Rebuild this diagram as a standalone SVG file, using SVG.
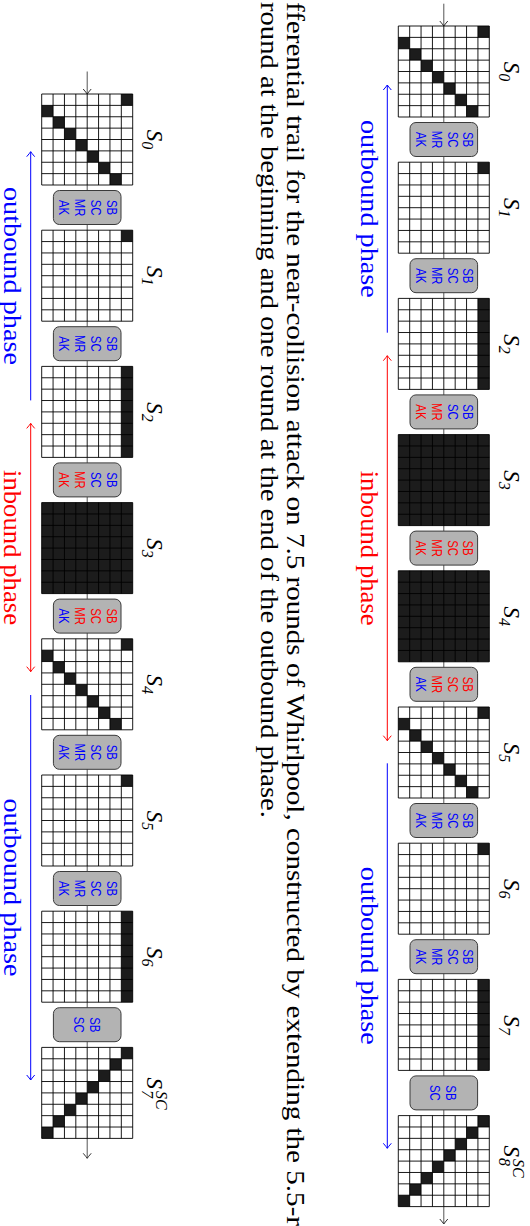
<svg xmlns="http://www.w3.org/2000/svg" xmlns:xlink="http://www.w3.org/1999/xlink" width="530" height="1226" viewBox="0 0 530 1226">
<style>
.bg{fill:#fff}
.gl{stroke:#000;stroke-width:0.9;fill:none}
.k{fill:#1c1c1c}
.box{fill:#b3b3b3;stroke:#3a3a3a;stroke-width:1}
.bt{font-family:"Liberation Sans",Arial,sans-serif;font-size:14.5px}
.b{fill:#0000ff}
.r{fill:#ff0000}
.lab{font-family:"Liberation Serif","Times New Roman",serif;font-style:italic;font-size:23px;fill:#000}
.sub{font-size:16px}
.ph{font-family:"Liberation Serif","Times New Roman",serif;font-size:25px}
.cap{font-family:"Liberation Serif","Times New Roman",serif;font-size:25px;fill:#000}
.spine{stroke:#555;stroke-width:1;fill:none}
.ab{stroke:#0000ff;stroke-width:1;fill:none}
.ar{stroke:#ff0000;stroke-width:1;fill:none}
</style>
<defs>
<marker id="mk" viewBox="-6 -5 7 10" refX="0" refY="0" markerWidth="7" markerHeight="10" markerUnits="userSpaceOnUse" orient="auto-start-reverse"><path d="M-5,-4 Q-1.5,-1 0,0 Q-1.5,1 -5,4" fill="none" stroke="#333" stroke-width="1"/></marker>
<marker id="mb" viewBox="-6 -5 7 10" refX="0" refY="0" markerWidth="7" markerHeight="10" markerUnits="userSpaceOnUse" orient="auto-start-reverse"><path d="M-5,-4 Q-1.5,-1 0,0 Q-1.5,1 -5,4" fill="none" stroke="#0000ff" stroke-width="1"/></marker>
<marker id="mr" viewBox="-6 -5 7 10" refX="0" refY="0" markerWidth="7" markerHeight="10" markerUnits="userSpaceOnUse" orient="auto-start-reverse"><path d="M-5,-4 Q-1.5,-1 0,0 Q-1.5,1 -5,4" fill="none" stroke="#ff0000" stroke-width="1"/></marker>
<path id="gl" class="gl" d="M0,0H91M0,11.375H91M0,22.75H91M0,34.125H91M0,45.5H91M0,56.875H91M0,68.25H91M0,79.625H91M0,91H91M0,0V91M11.375,0V91M22.75,0V91M34.125,0V91M45.5,0V91M56.875,0V91M68.25,0V91M79.625,0V91M91,0V91"/>
<g id="p-diag" class="k"><rect x="79.625" y="0" width="11.375" height="11.375"/><rect x="0" y="11.375" width="11.375" height="11.375"/><rect x="11.375" y="22.75" width="11.375" height="11.375"/><rect x="22.75" y="34.125" width="11.375" height="11.375"/><rect x="34.125" y="45.5" width="11.375" height="11.375"/><rect x="45.5" y="56.875" width="11.375" height="11.375"/><rect x="56.875" y="68.25" width="11.375" height="11.375"/><rect x="68.25" y="79.625" width="11.375" height="11.375"/></g>
<g id="p-anti" class="k"><rect x="79.625" y="0" width="11.375" height="11.375"/><rect x="68.25" y="11.375" width="11.375" height="11.375"/><rect x="56.875" y="22.75" width="11.375" height="11.375"/><rect x="45.5" y="34.125" width="11.375" height="11.375"/><rect x="34.125" y="45.5" width="11.375" height="11.375"/><rect x="22.75" y="56.875" width="11.375" height="11.375"/><rect x="11.375" y="68.25" width="11.375" height="11.375"/><rect x="0" y="79.625" width="11.375" height="11.375"/></g>
<rect id="p-single" class="k" x="79.625" y="0" width="11.375" height="11.375"/>
<rect id="p-col" class="k" x="79.625" y="0" width="11.375" height="91"/>
<rect id="p-full" class="k" x="0" y="0" width="91" height="91"/>
</defs>
<rect width="530" height="1226" fill="#fff"/>

<!-- connectors -->
<g id="connectors">
<line class="spine" x1="443.8" y1="26" x2="443.8" y2="1206.6"/>
<line class="spine" x1="443.8" y1="3.7" x2="443.8" y2="26" marker-end="url(#mk)"/>
<line class="spine" x1="443.8" y1="1206.6" x2="443.8" y2="1224" marker-end="url(#mk)"/>
<line class="ab" x1="387.3" y1="332.7" x2="387.3" y2="85" marker-end="url(#mb)"/>
<line class="ar" x1="387.3" y1="355.7" x2="387.3" y2="740.7" marker-start="url(#mr)" marker-end="url(#mr)"/>
<line class="ab" x1="387.3" y1="763.3" x2="387.3" y2="1148.3" marker-end="url(#mb)"/>
<line class="spine" x1="87.2" y1="94" x2="87.2" y2="1138.4"/>
<line class="spine" x1="87.2" y1="71.5" x2="87.2" y2="94" marker-end="url(#mk)"/>
<line class="spine" x1="87.2" y1="1138.4" x2="87.2" y2="1158.3" marker-end="url(#mk)"/>
<line class="ab" x1="30.7" y1="400.4" x2="30.7" y2="151.7" marker-end="url(#mb)"/>
<line class="ar" x1="30.7" y1="423.4" x2="30.7" y2="671.7" marker-start="url(#mr)" marker-end="url(#mr)"/>
<line class="ab" x1="30.7" y1="695" x2="30.7" y2="1080" marker-end="url(#mb)"/>
</g>

<!-- right figure states -->
<g id="R-S0" transform="translate(398.3,26)"><rect class="bg" width="91" height="91"/><use href="#p-diag"/><use href="#gl"/><text class="lab" transform="translate(105.7,45.5) rotate(90)" text-anchor="middle">S<tspan class="sub" dy="5">0</tspan></text></g>
<g id="R-S1" transform="translate(398.3,162.2)"><rect class="bg" width="91" height="91"/><use href="#p-single"/><use href="#gl"/><text class="lab" transform="translate(105.7,45.5) rotate(90)" text-anchor="middle">S<tspan class="sub" dy="5">1</tspan></text></g>
<g id="R-S2" transform="translate(398.3,298.4)"><rect class="bg" width="91" height="91"/><use href="#p-col"/><use href="#gl"/><text class="lab" transform="translate(105.7,45.5) rotate(90)" text-anchor="middle">S<tspan class="sub" dy="5">2</tspan></text></g>
<g id="R-S3" transform="translate(398.3,434.6)"><use href="#p-full"/><use href="#gl"/><text class="lab" transform="translate(105.7,45.5) rotate(90)" text-anchor="middle">S<tspan class="sub" dy="5">3</tspan></text></g>
<g id="R-S4" transform="translate(398.3,570.8)"><use href="#p-full"/><use href="#gl"/><text class="lab" transform="translate(105.7,45.5) rotate(90)" text-anchor="middle">S<tspan class="sub" dy="5">4</tspan></text></g>
<g id="R-S5" transform="translate(398.3,707)"><rect class="bg" width="91" height="91"/><use href="#p-diag"/><use href="#gl"/><text class="lab" transform="translate(105.7,45.5) rotate(90)" text-anchor="middle">S<tspan class="sub" dy="5">5</tspan></text></g>
<g id="R-S6" transform="translate(398.3,843.2)"><rect class="bg" width="91" height="91"/><use href="#p-single"/><use href="#gl"/><text class="lab" transform="translate(105.7,45.5) rotate(90)" text-anchor="middle">S<tspan class="sub" dy="5">6</tspan></text></g>
<g id="R-S7" transform="translate(398.3,979.4)"><rect class="bg" width="91" height="91"/><use href="#p-col"/><use href="#gl"/><text class="lab" transform="translate(105.7,45.5) rotate(90)" text-anchor="middle">S<tspan class="sub" dy="5">7</tspan></text></g>
<g id="R-S8" transform="translate(398.3,1115.6)"><rect class="bg" width="91" height="91"/><use href="#p-anti"/><use href="#gl"/><g transform="translate(105.7,45.5) rotate(90)"><text class="lab" x="-15.5">S</text><text class="lab sub" x="-2" y="-9">SC</text><text class="lab sub" x="-3" y="5">8</text></g></g>

<!-- right figure boxes -->
<g id="R-B0"><rect class="box" x="410" y="122.5" width="67.6" height="34" rx="6"/><text class="bt" transform="translate(443.8,139.5) rotate(90) scale(0.78,1)" text-anchor="middle"><tspan class="b" x="0" y="-19.5">SB</tspan><tspan class="b" x="0" y="-3.9">SC</tspan><tspan class="b" x="0" y="12.1">MR</tspan><tspan class="b" x="0" y="28.1">AK</tspan></text></g>
<g id="R-B1"><rect class="box" x="410" y="258.7" width="67.6" height="34" rx="6"/><text class="bt" transform="translate(443.8,275.7) rotate(90) scale(0.78,1)" text-anchor="middle"><tspan class="b" x="0" y="-19.5">SB</tspan><tspan class="b" x="0" y="-3.9">SC</tspan><tspan class="b" x="0" y="12.1">MR</tspan><tspan class="b" x="0" y="28.1">AK</tspan></text></g>
<g id="R-B2"><rect class="box" x="410" y="394.9" width="67.6" height="34" rx="6"/><text class="bt" transform="translate(443.8,411.9) rotate(90) scale(0.78,1)" text-anchor="middle"><tspan class="b" x="0" y="-19.5">SB</tspan><tspan class="b" x="0" y="-3.9">SC</tspan><tspan class="r" x="0" y="12.1">MR</tspan><tspan class="r" x="0" y="28.1">AK</tspan></text></g>
<g id="R-B3"><rect class="box" x="410" y="531.1" width="67.6" height="34" rx="6"/><text class="bt" transform="translate(443.8,548.1) rotate(90) scale(0.78,1)" text-anchor="middle"><tspan class="r" x="0" y="-19.5">SB</tspan><tspan class="r" x="0" y="-3.9">SC</tspan><tspan class="r" x="0" y="12.1">MR</tspan><tspan class="r" x="0" y="28.1">AK</tspan></text></g>
<g id="R-B4"><rect class="box" x="410" y="667.3" width="67.6" height="34" rx="6"/><text class="bt" transform="translate(443.8,684.3) rotate(90) scale(0.78,1)" text-anchor="middle"><tspan class="r" x="0" y="-19.5">SB</tspan><tspan class="r" x="0" y="-3.9">SC</tspan><tspan class="r" x="0" y="12.1">MR</tspan><tspan class="b" x="0" y="28.1">AK</tspan></text></g>
<g id="R-B5"><rect class="box" x="410" y="803.5" width="67.6" height="34" rx="6"/><text class="bt" transform="translate(443.8,820.5) rotate(90) scale(0.78,1)" text-anchor="middle"><tspan class="b" x="0" y="-19.5">SB</tspan><tspan class="b" x="0" y="-3.9">SC</tspan><tspan class="b" x="0" y="12.1">MR</tspan><tspan class="b" x="0" y="28.1">AK</tspan></text></g>
<g id="R-B6"><rect class="box" x="410" y="939.7" width="67.6" height="34" rx="6"/><text class="bt" transform="translate(443.8,956.7) rotate(90) scale(0.78,1)" text-anchor="middle"><tspan class="b" x="0" y="-19.5">SB</tspan><tspan class="b" x="0" y="-3.9">SC</tspan><tspan class="b" x="0" y="12.1">MR</tspan><tspan class="b" x="0" y="28.1">AK</tspan></text></g>
<g id="R-B7"><rect class="box" x="410" y="1075.9" width="67.6" height="34" rx="6"/><text class="bt" transform="translate(443.8,1092.9) rotate(90) scale(0.78,1)" text-anchor="middle"><tspan class="b" x="0" y="-2.5">SB</tspan><tspan class="b" x="0" y="13.5">SC</tspan></text></g>

<!-- right figure phase labels -->
<g id="R-phases">
<text class="ph b" transform="translate(361,208.9) rotate(90)" text-anchor="middle" textLength="178" lengthAdjust="spacingAndGlyphs">outbound phase</text>
<text class="ph r" transform="translate(361,548.2) rotate(90)" text-anchor="middle" textLength="155" lengthAdjust="spacingAndGlyphs">inbound phase</text>
<text class="ph b" transform="translate(361,955.8) rotate(90)" text-anchor="middle" textLength="178" lengthAdjust="spacingAndGlyphs">outbound phase</text>
</g>

<!-- caption -->
<g id="caption">
<text class="cap" transform="translate(287,2) rotate(90)" textLength="1224" lengthAdjust="spacingAndGlyphs">fferential trail for the near-collision attack on 7.5 rounds of Whirlpool, constructed by extending the 5.5-r</text>
<text class="cap" transform="translate(261,2) rotate(90)" textLength="816" lengthAdjust="spacingAndGlyphs">round at the beginning and one round at the end of the outbound phase.</text>
</g>

<!-- left figure states -->
<g id="L-S0" transform="translate(41.7,94)"><rect class="bg" width="91" height="91"/><use href="#p-diag"/><use href="#gl"/><text class="lab" transform="translate(105.7,45.5) rotate(90)" text-anchor="middle">S<tspan class="sub" dy="5">0</tspan></text></g>
<g id="L-S1" transform="translate(41.7,230.2)"><rect class="bg" width="91" height="91"/><use href="#p-single"/><use href="#gl"/><text class="lab" transform="translate(105.7,45.5) rotate(90)" text-anchor="middle">S<tspan class="sub" dy="5">1</tspan></text></g>
<g id="L-S2" transform="translate(41.7,366.4)"><rect class="bg" width="91" height="91"/><use href="#p-col"/><use href="#gl"/><text class="lab" transform="translate(105.7,45.5) rotate(90)" text-anchor="middle">S<tspan class="sub" dy="5">2</tspan></text></g>
<g id="L-S3" transform="translate(41.7,502.6)"><use href="#p-full"/><use href="#gl"/><text class="lab" transform="translate(105.7,45.5) rotate(90)" text-anchor="middle">S<tspan class="sub" dy="5">3</tspan></text></g>
<g id="L-S4" transform="translate(41.7,638.8)"><rect class="bg" width="91" height="91"/><use href="#p-diag"/><use href="#gl"/><text class="lab" transform="translate(105.7,45.5) rotate(90)" text-anchor="middle">S<tspan class="sub" dy="5">4</tspan></text></g>
<g id="L-S5" transform="translate(41.7,775)"><rect class="bg" width="91" height="91"/><use href="#p-single"/><use href="#gl"/><text class="lab" transform="translate(105.7,45.5) rotate(90)" text-anchor="middle">S<tspan class="sub" dy="5">5</tspan></text></g>
<g id="L-S6" transform="translate(41.7,911.2)"><rect class="bg" width="91" height="91"/><use href="#p-col"/><use href="#gl"/><text class="lab" transform="translate(105.7,45.5) rotate(90)" text-anchor="middle">S<tspan class="sub" dy="5">6</tspan></text></g>
<g id="L-S7" transform="translate(41.7,1047.4)"><rect class="bg" width="91" height="91"/><use href="#p-anti"/><use href="#gl"/><g transform="translate(105.7,45.5) rotate(90)"><text class="lab" x="-15.5">S</text><text class="lab sub" x="-2" y="-9">SC</text><text class="lab sub" x="-3" y="5">7</text></g></g>

<!-- left figure boxes -->
<g id="L-B0"><rect class="box" x="53.4" y="190.5" width="67.6" height="34" rx="6"/><text class="bt" transform="translate(87.2,207.5) rotate(90) scale(0.78,1)" text-anchor="middle"><tspan class="b" x="0" y="-19.5">SB</tspan><tspan class="b" x="0" y="-3.9">SC</tspan><tspan class="b" x="0" y="12.1">MR</tspan><tspan class="b" x="0" y="28.1">AK</tspan></text></g>
<g id="L-B1"><rect class="box" x="53.4" y="326.7" width="67.6" height="34" rx="6"/><text class="bt" transform="translate(87.2,343.7) rotate(90) scale(0.78,1)" text-anchor="middle"><tspan class="b" x="0" y="-19.5">SB</tspan><tspan class="b" x="0" y="-3.9">SC</tspan><tspan class="b" x="0" y="12.1">MR</tspan><tspan class="b" x="0" y="28.1">AK</tspan></text></g>
<g id="L-B2"><rect class="box" x="53.4" y="462.9" width="67.6" height="34" rx="6"/><text class="bt" transform="translate(87.2,479.9) rotate(90) scale(0.78,1)" text-anchor="middle"><tspan class="b" x="0" y="-19.5">SB</tspan><tspan class="b" x="0" y="-3.9">SC</tspan><tspan class="r" x="0" y="12.1">MR</tspan><tspan class="r" x="0" y="28.1">AK</tspan></text></g>
<g id="L-B3"><rect class="box" x="53.4" y="599.1" width="67.6" height="34" rx="6"/><text class="bt" transform="translate(87.2,616.1) rotate(90) scale(0.78,1)" text-anchor="middle"><tspan class="r" x="0" y="-19.5">SB</tspan><tspan class="r" x="0" y="-3.9">SC</tspan><tspan class="r" x="0" y="12.1">MR</tspan><tspan class="b" x="0" y="28.1">AK</tspan></text></g>
<g id="L-B4"><rect class="box" x="53.4" y="735.3" width="67.6" height="34" rx="6"/><text class="bt" transform="translate(87.2,752.3) rotate(90) scale(0.78,1)" text-anchor="middle"><tspan class="b" x="0" y="-19.5">SB</tspan><tspan class="b" x="0" y="-3.9">SC</tspan><tspan class="b" x="0" y="12.1">MR</tspan><tspan class="b" x="0" y="28.1">AK</tspan></text></g>
<g id="L-B5"><rect class="box" x="53.4" y="871.5" width="67.6" height="34" rx="6"/><text class="bt" transform="translate(87.2,888.5) rotate(90) scale(0.78,1)" text-anchor="middle"><tspan class="b" x="0" y="-19.5">SB</tspan><tspan class="b" x="0" y="-3.9">SC</tspan><tspan class="b" x="0" y="12.1">MR</tspan><tspan class="b" x="0" y="28.1">AK</tspan></text></g>
<g id="L-B6"><rect class="box" x="53.4" y="1007.7" width="67.6" height="34" rx="6"/><text class="bt" transform="translate(87.2,1024.7) rotate(90) scale(0.78,1)" text-anchor="middle"><tspan class="b" x="0" y="-2.5">SB</tspan><tspan class="b" x="0" y="13.5">SC</tspan></text></g>

<!-- left figure phase labels -->
<g id="L-phases">
<text class="ph b" transform="translate(4.4,276) rotate(90)" text-anchor="middle" textLength="178" lengthAdjust="spacingAndGlyphs">outbound phase</text>
<text class="ph r" transform="translate(4.4,547.5) rotate(90)" text-anchor="middle" textLength="155" lengthAdjust="spacingAndGlyphs">inbound phase</text>
<text class="ph b" transform="translate(4.4,887.5) rotate(90)" text-anchor="middle" textLength="178" lengthAdjust="spacingAndGlyphs">outbound phase</text>
</g>
</svg>
